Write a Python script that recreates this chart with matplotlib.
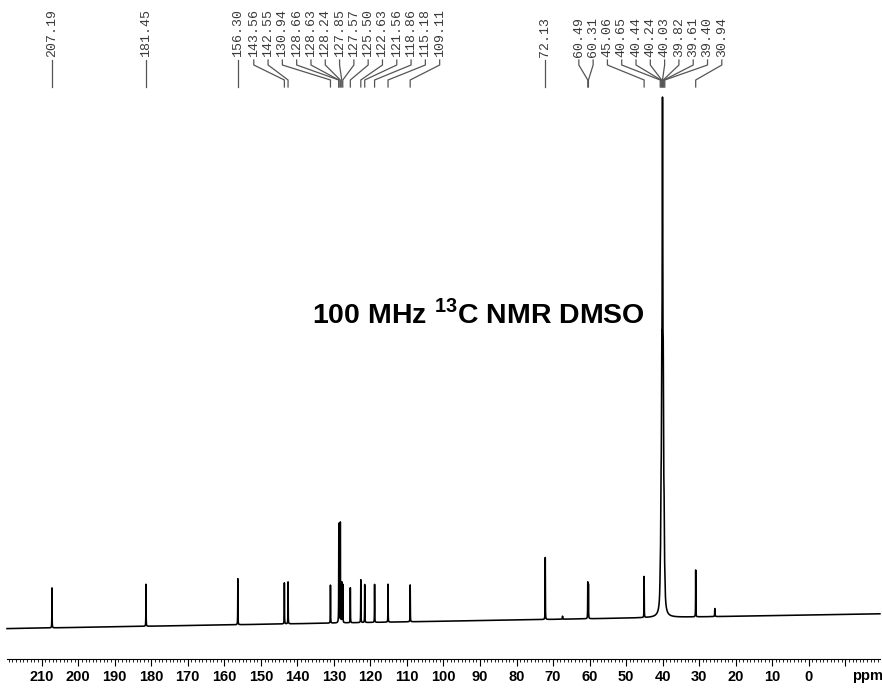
"""
100 MHz 13C NMR spectrum in DMSO, redrawn with matplotlib.
"""

import numpy as np
import matplotlib
matplotlib.use("Agg")
import matplotlib.pyplot as plt
from matplotlib.ticker import FixedLocator, FuncFormatter


# labelled peaks, ppm, and their heights (arbitrary units)
PEAK_PPM = [207.19, 181.45, 156.30, 143.56, 142.55, 130.94, 128.66, 128.63,
            128.24, 127.85, 127.57, 125.50, 122.63, 121.56, 118.86, 115.18,
            109.11, 72.13, 60.49, 60.31, 45.06, 40.65, 40.44, 40.24, 40.03,
            39.82, 39.61, 39.40, 30.94]
PEAK_HEIGHT = [40, 42, 46, 41, 42, 38, 62, 62,
               100, 40, 38, 35, 43, 38, 38, 38,
               37, 62, 36, 34, 41, 15, 75, 170, 450,
               165, 70, 12, 47]
# half width at half height, ppm (the DMSO septet is broader)
PEAK_HWHM = [0.03] * 21 + [0.1] * 7 + [0.03]

# small unlabelled peaks
EXTRA_PPM = [67.4, 25.7]
EXTRA_HEIGHT = [3, 8]

# baseline drift across the spectrum
BASELINE_PPM = [219.5, -19.5]
BASELINE_LEVEL = [-11.6, 3.2]

TITLE = r"100 MHz $^{\mathbf{13}}$C NMR DMSO"

FIG_W, FIG_H = 882, 688
LABEL_GAP = 3.915  # ppm between neighbouring peak labels


def spread_labels(ppms, gap):
    """Place labels left to right, pushing crowded ones apart around their mean."""
    groups = [[i] for i in range(len(ppms))]

    def placed(group):
        centre = np.mean([ppms[i] for i in group])
        n = len(group)
        return [centre + ((n - 1) / 2 - k) * gap for k in range(n)]

    merged = True
    while merged:
        merged = False
        for g in range(len(groups) - 1):
            if placed(groups[g])[-1] - placed(groups[g + 1])[0] < gap:
                groups[g] = groups[g] + groups.pop(g + 1)
                merged = True
                break

    out = []
    for group in groups:
        out.extend(placed(group))
    return out


def spectrum(ppm):
    y = np.interp(ppm, BASELINE_PPM[::-1], BASELINE_LEVEL[::-1])
    for x0, h, w in zip(PEAK_PPM + EXTRA_PPM, PEAK_HEIGHT + EXTRA_HEIGHT,
                        PEAK_HWHM + [0.05] * len(EXTRA_PPM)):
        y = y + h / (1 + ((ppm - x0) / w) ** 2)
    return y


def main():
    plt.rcParams["mathtext.fontset"] = "custom"
    plt.rcParams["mathtext.bf"] = "Liberation Sans:bold"
    plt.rcParams["mathtext.rm"] = "Liberation Sans"

    fig = plt.figure(figsize=(FIG_W / 100, FIG_H / 100), dpi=100)
    ax = fig.add_axes([0, 0, 1, 1])

    ppm = np.linspace(BASELINE_PPM[0], BASELINE_PPM[1], 60000)
    ax.plot(ppm, spectrum(ppm), color="black", linewidth=1.15)

    ax.set_xlim(221.42, -20.07)
    ax.set_ylim(-71, FIG_H - 71)

    for side in ("top", "left", "right"):
        ax.spines[side].set_visible(False)
    ax.spines["bottom"].set_position(("data", -42))
    ax.spines["bottom"].set_bounds(BASELINE_PPM[0], BASELINE_PPM[1])
    ax.spines["bottom"].set_linewidth(0.8)
    ax.set_yticks([])
    ax.xaxis.set_major_locator(FixedLocator(np.arange(210, -11, -10)))
    ax.xaxis.set_minor_locator(FixedLocator(np.arange(219, -20, -1)))
    ax.xaxis.set_major_formatter(
        FuncFormatter(lambda v, pos: f"{v:.0f}" if -0.5 < v < 210.5 else ""))
    ax.tick_params(axis="x", which="major", direction="out", length=5, width=0.8,
                   pad=3, labelsize=10.5)
    ax.tick_params(axis="x", which="minor", direction="out", length=2.5, width=0.6)
    for lbl in ax.get_xticklabels():
        lbl.set_fontfamily("Liberation Sans")
        lbl.set_fontweight("bold")

    ax.text(-16.0, -52, "ppm", ha="center", va="top", fontsize=10.5,
            fontweight="bold", family="Liberation Sans", color="black")

    # peak labels with leader lines
    trans = ax.get_xaxis_transform()
    label_ppm = spread_labels(PEAK_PPM, LABEL_GAP)

    def fy(px):
        return 1 - px / FIG_H

    for p, lp in zip(PEAK_PPM, label_ppm):
        ax.text(lp, fy(57), f"{p:.2f}", transform=trans, rotation=90,
                ha="center", va="bottom", fontsize=9.5, family="Liberation Mono",
                color="#3a3a3a")
        ax.plot([lp, lp, p, p], [fy(60), fy(65), fy(80), fy(87)],
                transform=trans, color="#555555", linewidth=0.9,
                clip_on=False)

    fig.text(478 / FIG_W, fy(314), TITLE, ha="center", va="center",
             fontsize=20.5, fontweight="bold", family="Liberation Sans")

    fig.savefig("out.png", dpi=100)
    plt.close(fig)


if __name__ == "__main__":
    main()
